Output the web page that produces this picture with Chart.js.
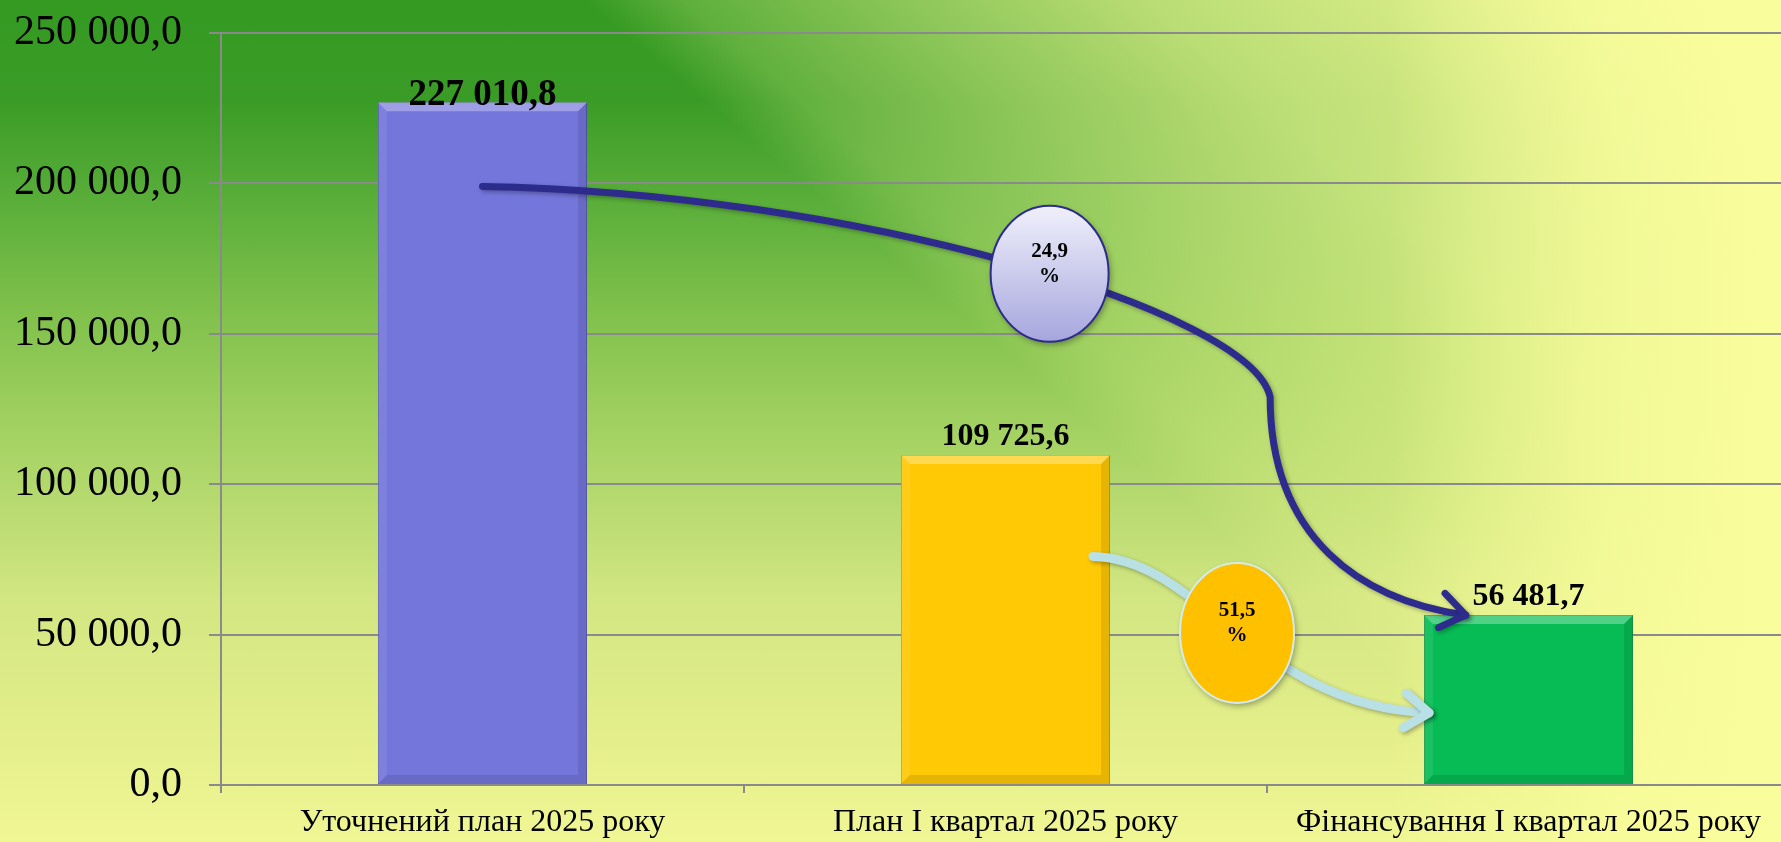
<!DOCTYPE html>
<html lang="uk">
<head>
<meta charset="utf-8">
<script src="https://cdn.jsdelivr.net/npm/chart.js@4.4.1/dist/chart.umd.min.js"></script>
<style>
  html, body { margin: 0; padding: 0; overflow: hidden; }
  #wrap {
    width: 1781px;
    height: 842px;
    position: relative;
    overflow: hidden;
    background:
      linear-gradient(90deg, rgba(250,253,156,0) 78%, rgba(250,253,156,0.7) 90%, rgba(250,253,156,1) 100%),
      linear-gradient(40deg, rgba(250,253,156,0) 57%, rgba(250,253,156,0.21) 60.5%, rgba(250,253,156,0.45) 68.6%, rgba(250,253,156,0.67) 77%, rgba(250,253,156,0.9) 93%, rgba(250,253,156,1) 100%),
      linear-gradient(180deg, #349a22 0%, #3a9c26 12%, #5aae3a 24%, #7dbf4a 36%, #a0d060 50%, #d2e682 71%, #e2ee8a 86%, #f0f694 100%);
  }
  canvas { display: block; }
</style>
</head>
<body>
<div id="wrap"><canvas id="chart" width="1790" height="842"></canvas></div>
<script>
const categories = ['Уточнений план 2025 року', 'План І квартал 2025 року', 'Фінансування І квартал 2025 року'];
const values = [227010.8, 109725.6, 56481.7];
const barColors = ['#7476dc', '#ffc906', '#07bc55'];
const barBorders = ['#5557b0', '#c89a00', '#06903f'];
const labelSizes = [37, 32, 32];
const percentLabels = ['24,9', '51,5'];
const yMax = 250000;
const yStep = 50000;

const serif = '"Liberation Serif", "Times New Roman", serif';

function fmt(v, digits) {
  const parts = v.toFixed(digits).split('.');
  const int = parts[0].replace(/\B(?=(\d{3})+(?!\d))/g, ' ');
  return parts.length > 1 ? int + ',' + parts[1] : int;
}

function pt(chart, cat, off, val) {
  const xs = chart.scales.x, ys = chart.scales.y;
  const w = xs.getPixelForValue(1) - xs.getPixelForValue(0);
  return { x: xs.getPixelForValue(cat) + off * w, y: ys.getPixelForValue(val) };
}

function bez(p0, p1, p2, p3, t) {
  const a = (1 - t) ** 3, b = 3 * (1 - t) ** 2 * t, c = 3 * (1 - t) * t * t, d = t ** 3;
  return { x: a * p0.x + b * p1.x + c * p2.x + d * p3.x, y: a * p0.y + b * p1.y + c * p2.y + d * p3.y };
}

function arrowHead(ctx, from, tip, len, spread) {
  const ang = Math.atan2(tip.y - from.y, tip.x - from.x);
  ctx.beginPath();
  ctx.moveTo(tip.x - len * Math.cos(ang - spread), tip.y - len * Math.sin(ang - spread));
  ctx.lineTo(tip.x, tip.y);
  ctx.lineTo(tip.x - len * Math.cos(ang + spread), tip.y - len * Math.sin(ang + spread));
  ctx.stroke();
}

function bubble(ctx, c, rx, ry, fill, stroke, text) {
  ctx.save();
  ctx.shadowColor = 'rgba(0,0,0,0.35)';
  ctx.shadowBlur = 6;
  ctx.shadowOffsetX = 2;
  ctx.shadowOffsetY = 3;
  ctx.beginPath();
  ctx.ellipse(c.x, c.y, rx, ry, 0, 0, Math.PI * 2);
  ctx.fillStyle = fill;
  ctx.fill();
  ctx.restore();
  ctx.save();
  ctx.beginPath();
  ctx.ellipse(c.x, c.y, rx, ry, 0, 0, Math.PI * 2);
  ctx.lineWidth = 2;
  ctx.strokeStyle = stroke;
  ctx.stroke();
  ctx.fillStyle = '#000';
  ctx.font = 'bold 21px ' + serif;
  ctx.textAlign = 'center';
  ctx.textBaseline = 'alphabetic';
  ctx.fillText(text, c.x, c.y - 17);
  ctx.fillText('%', c.x, c.y + 8);
  ctx.restore();
}

// bevels, value labels, arrows and percentage bubbles
const decor = {
  id: 'decor',
  afterDatasetsDraw(chart) {
    const ctx = chart.ctx;
    const meta = chart.getDatasetMeta(0);
    meta.data.forEach((bar, i) => {
      const l = bar.x - bar.width / 2, r = bar.x + bar.width / 2, t = bar.y, b = bar.base, e = 9;
      ctx.save();
      ctx.fillStyle = 'rgba(255,255,255,0.30)';
      ctx.beginPath();
      ctx.moveTo(l, t); ctx.lineTo(r, t); ctx.lineTo(r - e, t + e); ctx.lineTo(l + e, t + e); ctx.closePath();
      ctx.fill();
      ctx.fillStyle = 'rgba(0,0,0,0.10)';
      ctx.beginPath();
      ctx.moveTo(r, t); ctx.lineTo(r, b); ctx.lineTo(r - e, b - e); ctx.lineTo(r - e, t + e); ctx.closePath();
      ctx.fill();
      ctx.beginPath();
      ctx.moveTo(l, b); ctx.lineTo(r, b); ctx.lineTo(r - e, b - e); ctx.lineTo(l + e, b - e); ctx.closePath();
      ctx.fill();
      ctx.fillStyle = 'rgba(255,255,255,0.08)';
      ctx.beginPath();
      ctx.moveTo(l, t); ctx.lineTo(l + e, t + e); ctx.lineTo(l + e, b - e); ctx.lineTo(l, b); ctx.closePath();
      ctx.fill();
      ctx.restore();

      ctx.save();
      ctx.fillStyle = '#000';
      ctx.font = 'bold ' + labelSizes[i] + 'px ' + serif;
      ctx.textAlign = 'center';
      ctx.textBaseline = 'alphabetic';
      const baseY = Math.max(bar.y - 10, chart.chartArea.top + 72);
      ctx.fillText(fmt(values[i], 1), bar.x, baseY);
      ctx.restore();
    });

    // light arrow: plan Q1 -> financing Q1
    const a0 = pt(chart, 1, 0.167, 76000), a1 = pt(chart, 1, 0.37, 75500);
    const a2 = pt(chart, 1, 0.485, 26000), a3 = pt(chart, 2, -0.19, 24000);
    ctx.save();
    ctx.shadowColor = 'rgba(0,0,0,0.3)';
    ctx.shadowBlur = 4;
    ctx.shadowOffsetX = 2;
    ctx.shadowOffsetY = 2;
    ctx.strokeStyle = '#b9e0e4';
    ctx.lineWidth = 9;
    ctx.lineCap = 'round';
    ctx.lineJoin = 'round';
    ctx.beginPath();
    ctx.moveTo(a0.x, a0.y);
    ctx.bezierCurveTo(a1.x, a1.y, a2.x, a2.y, a3.x, a3.y);
    ctx.stroke();
    arrowHead(ctx, bez(a0, a1, a2, a3, 0.93), a3, 30, 0.62);
    ctx.restore();

    // dark arrow: refined plan -> financing Q1
    const d0 = pt(chart, 0, 0, 199000), d1 = pt(chart, 1, -0.30, 197000);
    const d2 = pt(chart, 1, 0.469, 158000), d3 = pt(chart, 1, 0.506, 129000);
    const d4 = pt(chart, 1, 0.506, 82000), d5 = pt(chart, 2, -0.32, 61500);
    const d6 = pt(chart, 2, -0.12, values[2]);
    ctx.save();
    ctx.shadowColor = 'rgba(0,0,0,0.3)';
    ctx.shadowBlur = 4;
    ctx.shadowOffsetX = 2;
    ctx.shadowOffsetY = 2;
    ctx.strokeStyle = '#2d2c8c';
    ctx.lineWidth = 7;
    ctx.lineCap = 'round';
    ctx.lineJoin = 'round';
    ctx.beginPath();
    ctx.moveTo(d0.x, d0.y);
    ctx.bezierCurveTo(d1.x, d1.y, d2.x, d2.y, d3.x, d3.y);
    ctx.bezierCurveTo(d4.x, d4.y, d5.x, d5.y, d6.x, d6.y);
    ctx.stroke();
    arrowHead(ctx, bez(d3, d4, d5, d6, 0.9), d6, 30, 0.62);
    ctx.restore();

    const c1 = bez(d0, d1, d2, d3, 0.55);
    const g1 = ctx.createLinearGradient(0, c1.y - 68, 0, c1.y + 68);
    g1.addColorStop(0, '#f0f0fb');
    g1.addColorStop(1, '#a6a6de');
    bubble(ctx, c1, 59, 68, g1, '#2d2c8c', percentLabels[0]);

    const c2 = bez(a0, a1, a2, a3, 0.5);
    bubble(ctx, c2, 57, 70, '#ffc000', '#d3ecea', percentLabels[1]);
  }
};

new Chart(document.getElementById('chart'), {
  type: 'bar',
  data: {
    labels: categories,
    datasets: [{
      data: values,
      backgroundColor: barColors,
      borderColor: barBorders,
      borderWidth: 1,
      barPercentage: 0.4,
      categoryPercentage: 1
    }]
  },
  options: {
    responsive: false,
    animation: false,
    layout: { padding: { top: 33, right: 0, left: 0, bottom: 0 } },
    plugins: {
      legend: { display: false },
      tooltip: { enabled: false }
    },
    scales: {
      x: {
        grid: { display: true, drawOnChartArea: false, drawTicks: true, tickLength: 8, offset: true, color: '#8a8a8a', lineWidth: 2 },
        border: { display: true, color: '#8a8a8a', width: 2 },
        ticks: { color: '#000', font: { family: serif, size: 32 }, padding: 10, maxRotation: 0, autoSkip: false },
        afterFit(s) { s.height = 57; s.paddingLeft = 0; s.paddingRight = 0; }
      },
      y: {
        min: 0,
        max: yMax,
        grid: { color: '#8a8a8a', lineWidth: 2, tickLength: 12 },
        border: { display: true, color: '#8a8a8a', width: 2 },
        ticks: {
          stepSize: yStep,
          color: '#000',
          font: { family: serif, size: 42 },
          padding: 27,
          callback: v => fmt(v, 1)
        },
        afterFit(s) { s.width = 221; s.paddingTop = 0; s.paddingBottom = 0; }
      }
    }
  },
  plugins: [decor]
});
</script>
</body>
</html>
